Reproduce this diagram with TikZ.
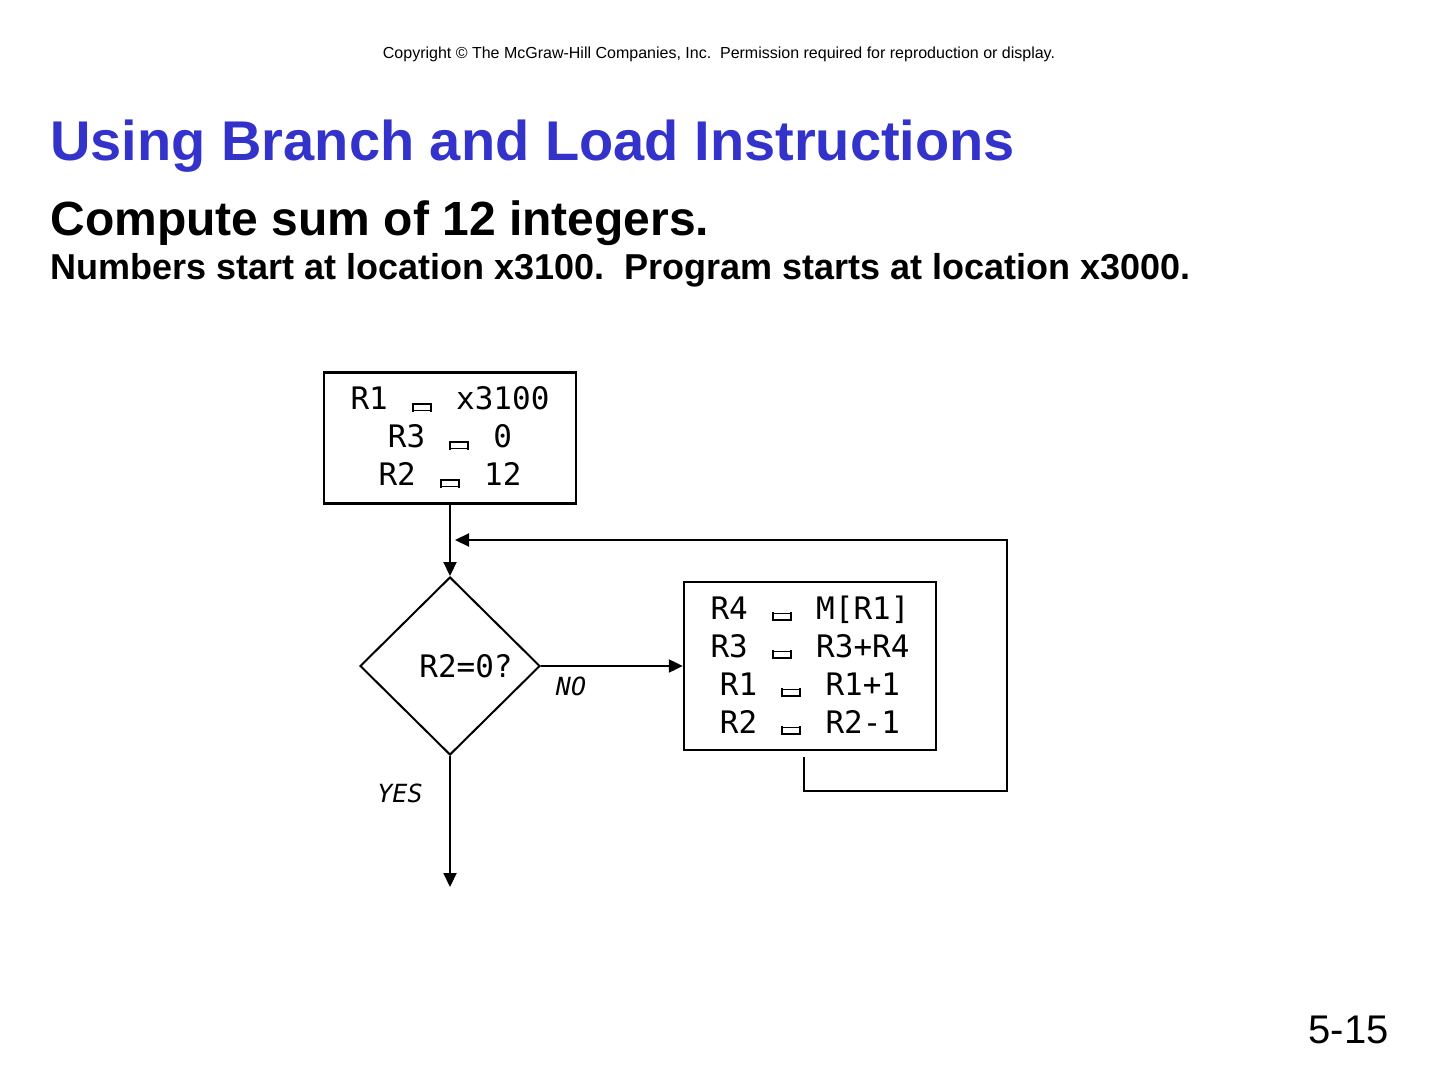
\documentclass[tikz,border=0pt]{standalone}
\usepackage{fontspec}
\setmainfont{Liberation Sans}
\newfontfamily\monof{DejaVu Sans Mono}
\usetikzlibrary{shapes.geometric,arrows.meta}
\definecolor{titleblue}{HTML}{3333CC}
\newcommand{\gl}{\makebox[1em]{\tikz[baseline=0pt,x=1pt,y=1pt,line width=0.9pt]{%
  \draw (0.2,-0.3) -- (9.2,-0.3) (0.2,2.9) -- (9.2,2.9) (0.2,-1.1) -- (0.2,3.7) (9.2,-1.1) -- (9.2,3.7);}}}
\tikzset{
  pbox/.style={draw, line width=1.2pt, font=\monof\fontsize{15.5}{19}\selectfont, align=center, minimum width=126pt, inner sep=0pt},
  dec/.style={draw, diamond, line width=1pt, minimum width=90pt, minimum height=89pt, inner sep=0pt, font=\monof\fontsize{15.5}{19}\selectfont},
  flow/.style={line width=1.1pt, -{Triangle[length=7pt,width=6.5pt]}},
  lbl/.style={font=\monof\itshape\fontsize{12.5}{15}\selectfont, inner sep=0pt},
}
\begin{document}
\begin{tikzpicture}[x=0.5pt,y=-0.5pt]
\useasboundingbox (0,0) rectangle (1440,1080);
\node[anchor=base, font=\fontsize{8}{9}\selectfont, inner sep=0pt] (copy) at (719,59) {Copyright \textcopyright\ The McGraw-Hill Companies, Inc.\ \ Permission required for reproduction or display.};
\node[anchor=base west, font=\bfseries\fontsize{28}{32}\selectfont, text=titleblue, inner sep=0pt] (title) at (50,161) {Using Branch and Load Instructions};
\node[anchor=base west, font=\bfseries\fontsize{24}{28}\selectfont, inner sep=0pt] (sub1) at (50,236) {Compute sum of 12 integers.};
\node[anchor=base west, font=\bfseries\fontsize{18}{20}\selectfont, inner sep=0pt] (sub2) at (50,280) {Numbers start at location x3100.\ \ Program starts at location x3000.};
\node[anchor=base east, font=\fontsize{20}{24}\selectfont, inner sep=0pt] (pg) at (1389,1043) {5-15};

\node[pbox, minimum height=65.5pt] (init) at (450,438) {R1 \gl{} x3100\\R3 \gl{} 0\\R2 \gl{} 12};
\node[dec] (test) at (450,666) {\hspace*{16pt}R2=0?};
\node[pbox, minimum height=84pt] (body) at (810,666) {R4 \gl{} M[R1]\\R3 \gl{} R3+R4\\R1 \gl{} R1+1\\R2 \gl{} R2-1};

\coordinate (lp0) at (804,757);
\coordinate (lp1) at (804,791);
\coordinate (lp2) at (1007,791);
\coordinate (lp3) at (1007,540);
\coordinate (lp4) at (455,540);
\coordinate (endp) at (450,887);

\draw[flow] (init.south) -- (test.north);
\draw[flow] (test.east) -- (body.west);
\draw[flow] (test.south) -- (endp);
\draw[flow] (lp0) -- (lp1) -- (lp2) -- (lp3) -- (lp4);

\node[lbl] (no) at (571,686) {NO};
\node[lbl] (yes) at (400,793) {YES};
\end{tikzpicture}
\end{document}
